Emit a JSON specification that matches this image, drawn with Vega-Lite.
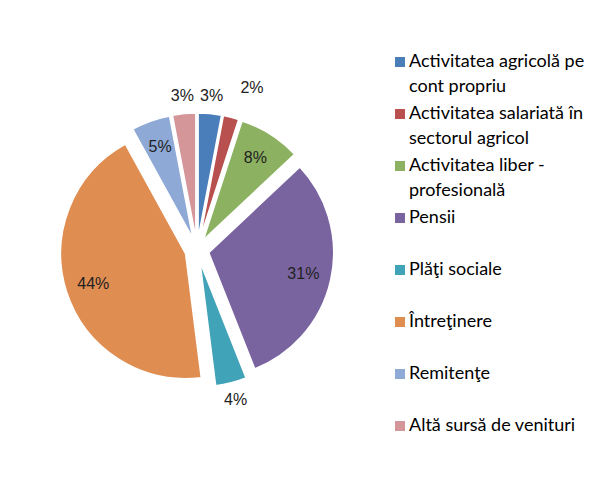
{
  "$schema": "https://vega.github.io/schema/vega-lite/v6.json",
  "width": 394,
  "height": 476,
  "autosize": "none",
  "padding": {"left": 0, "top": 12, "right": 206, "bottom": 0},
  "background": "white",
  "config": {"view": {"stroke": null}, "style": {"guide-label": {"lineHeight": 25}}},
  "data": {
    "values": [
      {"order": 1, "cat": "Activitatea agricolă pe cont propriu", "share": 0.03},
      {"order": 2, "cat": "Activitatea salariată în sectorul agricol", "share": 0.02},
      {"order": 3, "cat": "Activitatea liber - profesională", "share": 0.08},
      {"order": 4, "cat": "Pensii", "share": 0.31},
      {"order": 5, "cat": "Plăţi sociale", "share": 0.04},
      {"order": 6, "cat": "Întreţinere", "share": 0.44},
      {"order": 7, "cat": "Remitenţe", "share": 0.05},
      {"order": 8, "cat": "Altă sursă de venituri", "share": 0.03}
    ]
  },
  "encoding": {
    "theta": {"field": "share", "type": "quantitative", "stack": true},
    "order": {"field": "order", "type": "quantitative"}
  },
  "layer": [
    {
      "mark": {
        "type": "arc",
        "outerRadius": 125,
        "stroke": "white",
        "strokeWidth": 1.5,
        "xOffset": {"expr": "12*sin(PI*(datum.share_start+datum.share_end))"},
        "yOffset": {"expr": "-12*cos(PI*(datum.share_start+datum.share_end))"}
      },
      "encoding": {
        "color": {
          "field": "cat",
          "type": "nominal",
          "scale": {
            "domain": ["Activitatea agricolă pe cont propriu", "Activitatea salariată în sectorul agricol", "Activitatea liber - profesională", "Pensii", "Plăţi sociale", "Întreţinere", "Remitenţe", "Altă sursă de venituri"],
            "range": ["#4A7EBB", "#B7504E", "#8CB160", "#7A64A0", "#41A3B8", "#E08D52", "#8EA9D6", "#D5969A"]
          },
          "legend": {
            "orient": "none",
            "legendX": 391,
            "legendY": 41,
            "title": null,
            "symbolType": "square",
            "symbolSize": 100,
            "symbolStrokeWidth": 0,
            "labelFont": "Lato",
            "labelFontSize": 18,
            "labelColor": "#000",
            "labelLimit": 300,
            "rowPadding": 9,
            "labelOffset": 0,
            "labelExpr": "datum.label == 'Activitatea agricolă pe cont propriu' ? ['Activitatea agricolă pe', 'cont propriu'] : datum.label == 'Activitatea salariată în sectorul agricol' ? ['Activitatea salariată în', 'sectorul agricol'] : datum.label == 'Activitatea liber - profesională' ? ['Activitatea liber -', 'profesională'] : [datum.label, '']",
            "encode": {"labels": {"update": {"dy": {"value": 12.5}, "lineHeight": {"value": 25}}}}
          }
        }
      }
    },
    {
      "mark": {"type": "text", "radius": 109, "font": "Liberation Sans", "fontSize": 16, "fill": "#222"},
      "encoding": {
        "text": {"field": "share", "type": "quantitative", "format": ".0%", "condition": {"test": "datum.share < 0.05", "value": ""}}
      }
    },
    {
      "mark": {"type": "text", "radius": 155, "font": "Liberation Sans", "fontSize": 16, "fill": "#222"},
      "encoding": {
        "text": {"field": "share", "type": "quantitative", "format": ".0%", "condition": {"test": "datum.share >= 0.05 || datum.order == 2", "value": ""}}
      }
    },
    {
      "mark": {"type": "text", "radius": 165, "font": "Liberation Sans", "fontSize": 16, "fill": "#222", "dx": 14, "dy": -2},
      "encoding": {
        "text": {"field": "share", "type": "quantitative", "format": ".0%", "condition": {"test": "datum.order != 2", "value": ""}}
      }
    }
  ]
}
